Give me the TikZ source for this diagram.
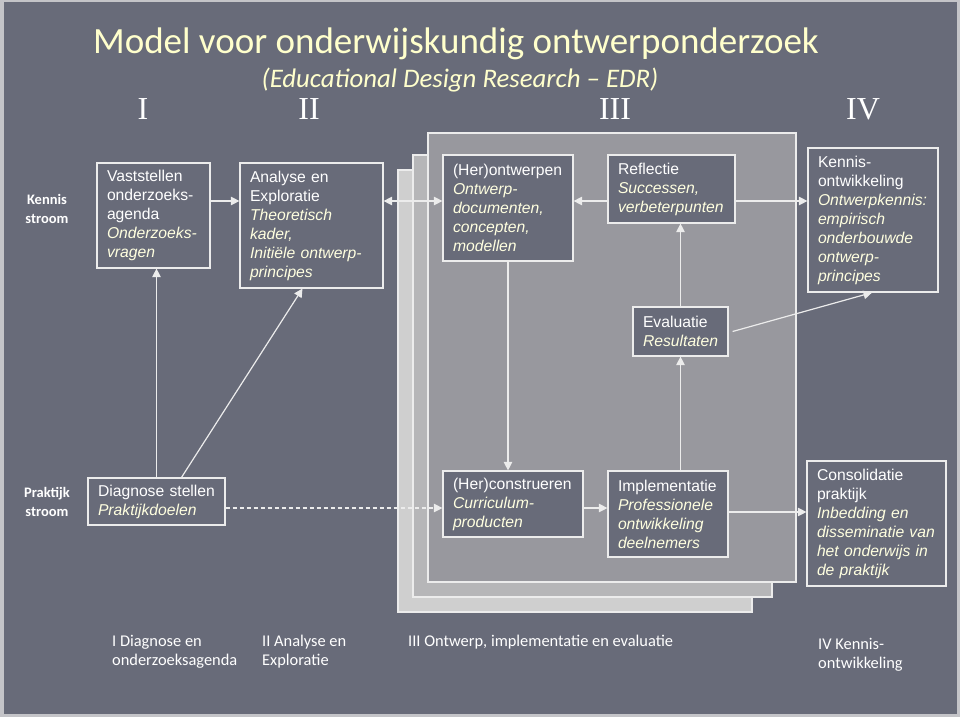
\documentclass[tikz,border=0pt]{standalone}
\usepackage{fontspec}
\setsansfont{Liberation Sans}
\newfontfamily\carlito{Carlito}
\newfontfamily\romfont{Liberation Serif}
\usetikzlibrary{arrows.meta,calc}
\definecolor{bg}{HTML}{686B79}
\definecolor{frame}{HTML}{C4C4C8}
\definecolor{cream}{HTML}{FFFFE0}
\definecolor{titlecol}{HTML}{FFFFCC}
\definecolor{pback}{HTML}{CFCFCF}
\definecolor{pmid}{HTML}{B6B6B8}
\definecolor{pfront}{HTML}{98989E}
\definecolor{edge}{HTML}{ECECEC}
\newcommand\emx[1]{{\itshape\color{cream}#1}}
\tikzset{
  boxn/.style={draw=edge, line width=1.2pt, fill=bg, text=white, align=left,
    inner xsep=10pt, inner ysep=0pt, anchor=center,
    font=\sffamily\fontsize{15.7}{19}\selectfont},
  arr/.style={-{Triangle[length=8.5pt,width=8.5pt]}, line width=1.2pt, draw=edge},
  darr/.style={{Triangle[length=8.5pt,width=8.5pt]}-{Triangle[length=8.5pt,width=8.5pt]}, line width=1.2pt, draw=edge},
  dasharr/.style={arr, dash pattern=on 4pt off 3pt},
  panel/.style={draw=edge, line width=1.2pt},
  sidelab/.style={text=white, align=center, font=\carlito\bfseries\fontsize{14.5}{19}\selectfont},
  botlab/.style={text=white, align=left, anchor=west, inner sep=0pt, font=\carlito\fontsize{16.4}{19}\selectfont},
  roman/.style={text=white, anchor=base, font=\romfont\fontsize{32}{36}\selectfont}
}
\begin{document}
\begin{tikzpicture}[x=1pt,y=-1pt]
\useasboundingbox (0,0) rectangle (960,717);
\fill[frame] (0,0) rectangle (960,717);
\fill[bg] (4,2) rectangle (957,714);
% title
\node[text=titlecol, anchor=base, font=\carlito\fontsize{37}{40}\selectfont] (title) at (456,54) {Model voor onderwijskundig ontwerponderzoek};
\node[text=titlecol, anchor=base, font=\carlito\itshape\fontsize{26.8}{30}\selectfont] (subtitle) at (460,87) {(Educational Design Research – EDR)};
\node[roman] (r1n) at (143,119) {I};
\node[roman] (r2n) at (309,119) {II};
\node[roman] (r3n) at (615,119) {III};
\node[roman] (r4n) at (863,119) {IV};
% side labels
\node[sidelab] (ks) at (47,208.5) {Kennis\\stroom};
\node[sidelab] (ps) at (47,501.5) {Praktijk\\stroom};
% stacked panels
\path[panel, fill=pback] (398,170) rectangle (752,612);
\path[panel, fill=pmid] (413,155) rectangle (772,597);
\path[panel, fill=pfront] (428,133) rectangle (796,582);
% boxes
\node[boxn, text width=93pt, minimum height=105pt] (vast) at (153.5,215.5)
  {Vaststellen\\onderzoeks-\\agenda\\\emx{Onderzoeks-}\\\emx{vragen}};
\node[boxn, text width=123pt, minimum height=125pt] (anal) at (311.5,225.5)
  {Analyse en\\Exploratie\\\emx{Theoretisch}\\\emx{kader,}\\\emx{Initiële ontwerp-}\\\emx{principes}};
\node[boxn, text width=110pt, minimum height=106pt] (hero) at (508,208)
  {(Her)ontwerpen\\\emx{Ontwerp-}\\\emx{documenten,}\\\emx{concepten,}\\\emx{modellen}};
\node[boxn, text width=107pt, minimum height=68pt] (refl) at (671.5,189)
  {Reflectie\\\emx{Successen,}\\\emx{verbeterpunten}};
\node[boxn, text width=110pt, minimum height=144pt] (kenn) at (873,220)
  {Kennis-\\ontwikkeling\\\emx{Ontwerpkennis:}\\\emx{empirisch}\\\emx{onderbouwde}\\\emx{ontwerp-}\\\emx{principes}};
\node[boxn, text width=75pt, minimum height=49pt] (eval) at (680.5,331.5)
  {Evaluatie\\\emx{Resultaten}};
\node[boxn, text width=117pt, minimum height=47pt] (diag) at (156.5,501.5)
  {\mbox{Diagnose stellen}\\\emx{Praktijkdoelen}};
\node[boxn, text width=120pt, minimum height=66pt] (herc) at (513,504)
  {(Her)construeren\\\emx{Curriculum-}\\\emx{producten}};
\node[boxn, text width=100pt, minimum height=86pt] (impl) at (668,514)
  {Implementatie\\\emx{Professionele}\\\emx{ontwikkeling}\\\emx{deelnemers}};
\node[boxn, text width=119pt, minimum height=125pt] (cons) at (876.5,523.5)
  {Consolidatie\\praktijk\\\emx{Inbedding en}\\\emx{disseminatie van}\\\emx{het onderwijs in}\\\emx{de praktijk}};
% row coordinates
\coordinate (rowa) at (0,201);
\coordinate (rowb) at (0,508);
\coordinate (rowc) at (0,512);
% connectors
\draw[arr] (vast.east |- rowa) -- (anal.west |- rowa);
\draw[darr] (anal.east |- rowa) -- (hero.west |- rowa);
\draw[arr] (refl.west |- rowa) -- (hero.east |- rowa);
\draw[arr] (refl.east |- rowa) -- (kenn.west |- rowa);
\draw[arr] (hero.south) -- (hero.south |- herc.north);
\draw[arr] (eval.north) -- (eval.north |- refl.south);
\draw[arr] (eval.south |- impl.north) -- (eval.south);
\draw[arr] ([xshift=4pt]eval.east) -- ([xshift=-1pt]kenn.south);
\draw[arr] (diag.north) -- (diag.north |- vast.south);
\draw[arr] ([xshift=25pt]diag.north) -- ([xshift=-9pt]anal.south);
\draw[dasharr] (diag.east |- rowb) -- (herc.west |- rowb);
\draw[arr] (herc.east |- rowb) -- (impl.west |- rowb);
\draw[arr] (impl.east |- rowc) -- (cons.west |- rowc);
% bottom labels
\node[botlab] (b1) at (112,651.5) {I Diagnose en\\onderzoeksagenda};
\node[botlab] (b2) at (262,651.5) {II Analyse en\\Exploratie};
\node[botlab] (b3) at (408,642) {III Ontwerp, implementatie en evaluatie};
\node[botlab] (b4) at (818,654.5) {IV Kennis-\\ontwikkeling};
\end{tikzpicture}
\end{document}
